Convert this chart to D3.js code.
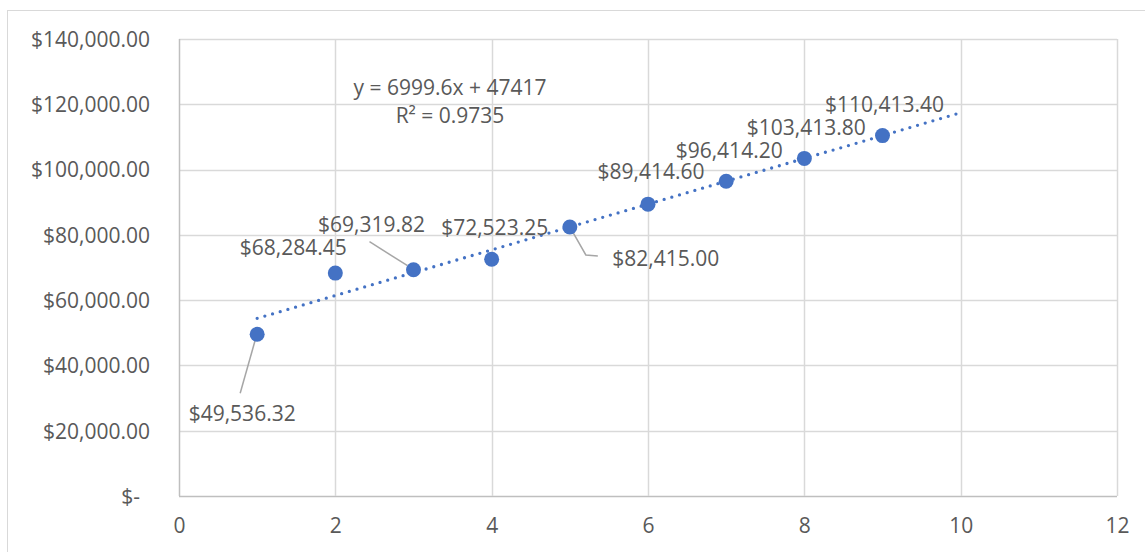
<!DOCTYPE html>
<html>
<head>
<meta charset="utf-8">
<script src="https://cdn.jsdelivr.net/npm/d3@7/dist/d3.min.js"></script>
<style>
  html, body { margin: 0; padding: 0; background: #fff; }
  svg { display: block; }
  text { font-family: "Open Sans", Lato, sans-serif; fill: #595959; }
</style>
</head>
<body>
<svg id="chart" width="1145" height="552"></svg>
<script>
// Period number and revenue per period
const periods = [1, 2, 3, 4, 5, 6, 7, 8, 9];
const revenue = [49536.32, 68284.45, 69319.82, 72523.25, 82415.00, 89414.60, 96414.20, 103413.80, 110413.40];

// Linear trendline (least squares) and its displayed equation
const trendSlope = 6999.6;
const trendIntercept = 47417;
const trendRange = [1, 10];
const trendLabel = ["y = 6999.6x + 47417", "R² = 0.9735"];

// Axis ticks
const xTicks = [0, 2, 4, 6, 8, 10, 12];
const yTicks = [0, 20000, 40000, 60000, 80000, 100000, 120000, 140000];

// Data label placement (pixel offsets from each point) and leader lines
const labelOffsets = [
  { dx: -15, dy: 79, leader: [[-17, 59], [-2, 6]] },
  { dx: -42, dy: -25 },
  { dx: -42, dy: -45, leader: [[-44, -28], [-6, -4]] },
  { dx: 3, dy: -32 },
  { dx: 96, dy: 32, leader: [[0, 0], [16, 28], [28, 29]] },
  { dx: 3, dy: -32 },
  { dx: 3, dy: -31 },
  { dx: 2, dy: -31 },
  { dx: 2, dy: -31 }
];

const svg = d3.select("#chart");
const plot = { left: 179, right: 1117, top: 39, bottom: 496 };
const fontSize = "21px";

const x = d3.scaleLinear().domain([0, 12]).range([plot.left, plot.right]);
const y = d3.scaleLinear().domain([0, 140000]).range([plot.bottom, plot.top]);

const money = d3.format("$,.2f");
const yFmt = v => v === 0 ? "$-" : money(v);

// Chart frame
svg.append("rect")
  .attr("x", 7.5).attr("y", 10.5)
  .attr("width", 1160).attr("height", 560)
  .attr("fill", "none").attr("stroke", "#d9d9d9").attr("stroke-width", 1);

// Gridlines
const grid = svg.append("g");
grid.selectAll("line.h").data(yTicks).join("line")
  .attr("x1", plot.left).attr("x2", plot.right)
  .attr("y1", d => Math.round(y(d)) + 0.5).attr("y2", d => Math.round(y(d)) + 0.5)
  .attr("stroke", d => d === 0 ? "#bfbfbf" : "#d9d9d9").attr("stroke-width", 1.5);
grid.selectAll("line.v").data(xTicks).join("line")
  .attr("y1", plot.top).attr("y2", plot.bottom)
  .attr("x1", d => Math.round(x(d)) + 0.5).attr("x2", d => Math.round(x(d)) + 0.5)
  .attr("stroke", d => d === 0 ? "#bfbfbf" : "#d9d9d9").attr("stroke-width", 1.5);

// Y axis labels
const yAxis = svg.append("g")
  .attr("transform", `translate(${plot.left - 12},0)`)
  .call(d3.axisLeft(y).tickValues(yTicks).tickFormat(yFmt).tickSize(0).tickPadding(17));
yAxis.select(".domain").remove();
yAxis.selectAll("text")
  .style("font-size", fontSize)
  .attr("fill", "#595959")
  .attr("dx", d => d === 0 ? -10 : 0)
  .attr("dy", "0.35em");

// X axis labels
const xAxis = svg.append("g")
  .attr("transform", `translate(0,${plot.bottom})`)
  .call(d3.axisBottom(x).tickValues(xTicks).tickFormat(d3.format("d")).tickSize(0).tickPadding(22));
xAxis.select(".domain").remove();
xAxis.selectAll("text").style("font-size", fontSize).attr("fill", "#595959");

// Trendline
const trend = trendRange.map(t => [t, trendSlope * t + trendIntercept]);
svg.append("line")
  .attr("x1", x(trend[0][0])).attr("y1", y(trend[0][1]))
  .attr("x2", x(trend[1][0])).attr("y2", y(trend[1][1]))
  .attr("stroke", "#4472c4").attr("stroke-width", 3.3)
  .attr("stroke-linecap", "round").attr("stroke-dasharray", "0 8");

// Trendline equation
svg.append("g").selectAll("text").data(trendLabel).join("text")
  .attr("x", 450).attr("y", (d, i) => 88 + i * 28)
  .attr("text-anchor", "middle").attr("dy", "0.35em")
  .style("font-size", fontSize)
  .text(d => d);

const pts = periods.map((p, i) => ({ px: x(p), py: y(revenue[i]), v: revenue[i], o: labelOffsets[i] }));

// Leader lines
svg.append("g").selectAll("polyline").data(pts.filter(d => d.o.leader)).join("polyline")
  .attr("points", d => d.o.leader.map(([a, b]) => `${d.px + a},${d.py + b}`).join(" "))
  .attr("fill", "none").attr("stroke", "#a6a6a6").attr("stroke-width", 1.5);

// Points
svg.append("g").selectAll("circle").data(pts).join("circle")
  .attr("cx", d => d.px).attr("cy", d => d.py).attr("r", 7.5)
  .attr("fill", "#4472c4");

// Data labels
svg.append("g").selectAll("text").data(pts).join("text")
  .attr("x", d => d.px + d.o.dx).attr("y", d => d.py + d.o.dy)
  .attr("text-anchor", "middle").attr("dy", "0.35em")
  .style("font-size", fontSize)
  .text(d => money(d.v));
</script>
</body>
</html>
